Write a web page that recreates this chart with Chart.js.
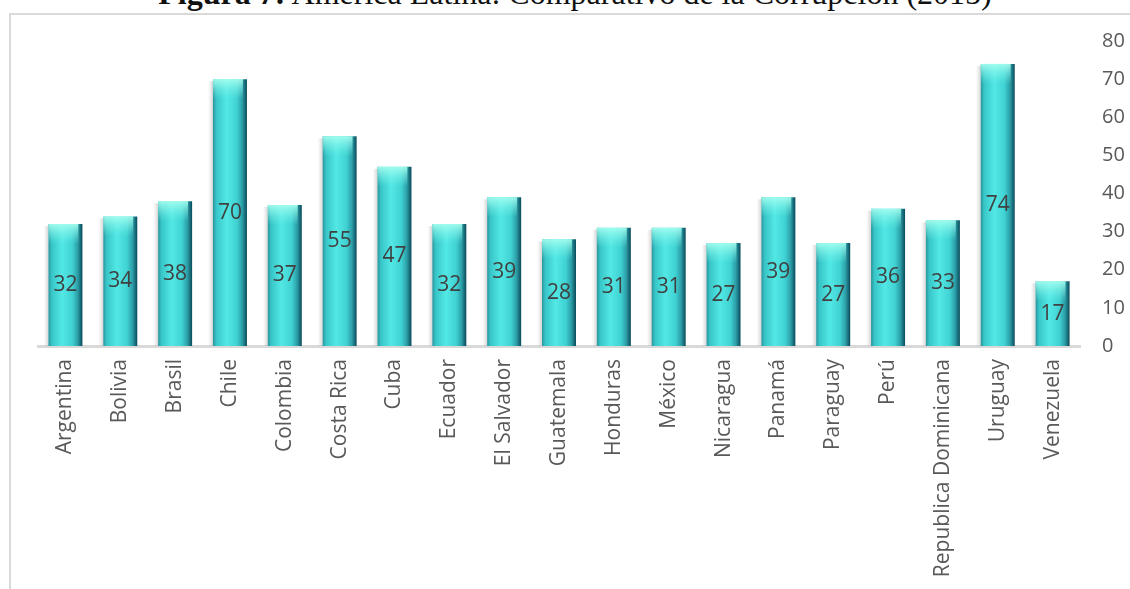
<!DOCTYPE html>
<html>
<head>
<meta charset="utf-8">
<script src="https://cdn.jsdelivr.net/npm/chart.js@4"></script>
<style>
  html, body { margin: 0; padding: 0; background: #fff; overflow: hidden; }
  #wrap { position: relative; width: 1130px; height: 589px; }
  #title {
    position: absolute; left: 0; width: 1150px; top: -25px;
    text-align: center; font-family: "Liberation Serif", serif; font-size: 32px; color: #111;
    white-space: nowrap;
  }
  #frame {
    position: absolute; left: 9px; top: 13px; right: 0; bottom: 0;
    border-left: 2px solid #d9d9d9; border-top: 2px solid #d9d9d9;
  }
  canvas { position: absolute; left: 0; top: 0; }
</style>
</head>
<body>
<div id="wrap">
  <div id="title"><b>Figura 7:</b> América Latina: Comparativo de la Corrupción (2015)</div>
  <div id="frame"></div>
  <canvas id="chart" width="1130" height="589"></canvas>
</div>
<script>
// countries and their score
const countries = ['Argentina', 'Bolivia', 'Brasil', 'Chile', 'Colombia', 'Costa Rica', 'Cuba',
  'Ecuador', 'El Salvador', 'Guatemala', 'Honduras', 'México', 'Nicaragua', 'Panamá',
  'Paraguay', 'Perú', 'Republica Dominicana', 'Uruguay', 'Venezuela'];
const scores = [32, 34, 38, 70, 37, 55, 47, 32, 39, 28, 31, 31, 27, 39, 27, 36, 33, 74, 17];
const yTicks = [0, 10, 20, 30, 40, 50, 60, 70, 80];

const BAR_SHARE = 0.62;

// cylinder-ish horizontal shading for each bar
function barFill(c) {
  const chart = c.chart;
  const xs = chart.scales.x;
  const flat = '#45d8d6';
  if (!xs || c.dataIndex === undefined) return flat;
  const cx = xs.getPixelForValue(c.dataIndex);
  const w = xs.width / countries.length * BAR_SHARE;
  if (!isFinite(cx) || !isFinite(w) || w <= 0) return flat;
  const g = chart.ctx.createLinearGradient(cx - w / 2, 0, cx + w / 2, 0);
  g.addColorStop(0, '#2a949c');
  g.addColorStop(0.1, '#38c6c8');
  g.addColorStop(0.4, '#52e8e4');
  g.addColorStop(0.7, '#40d2d3');
  g.addColorStop(0.86, '#2c9fa8');
  g.addColorStop(1, '#0a4a5a');
  return g;
}

// soft shadow, light cap at the top of each bar and the value in its middle
const barDecor = {
  id: 'barDecor',
  beforeDatasetsDraw(chart) {
    const ctx = chart.ctx;
    chart.getDatasetMeta(0).data.forEach(bar => {
      const left = bar.x - bar.width / 2;
      const g = ctx.createLinearGradient(left - 5, 0, left, 0);
      g.addColorStop(0, 'rgba(200,200,200,0)');
      g.addColorStop(1, 'rgba(170,170,170,0.5)');
      ctx.save();
      ctx.fillStyle = g;
      ctx.fillRect(left - 5, bar.y + 2, 5, bar.base - bar.y - 2);
      ctx.restore();
    });
  },
  afterDatasetsDraw(chart) {
    const ctx = chart.ctx;
    const meta = chart.getDatasetMeta(0);
    meta.data.forEach((bar, i) => {
      const left = bar.x - bar.width / 2;
      const g = ctx.createLinearGradient(0, bar.y, 0, bar.y + 20);
      g.addColorStop(0, 'rgba(170,255,240,0.9)');
      g.addColorStop(1, 'rgba(120,245,235,0)');
      ctx.save();
      ctx.fillStyle = g;
      ctx.fillRect(left, bar.y, bar.width * 0.88, 20);
      ctx.fillStyle = '#404040';
      ctx.font = '21px "Open Sans", sans-serif';
      ctx.textAlign = 'center';
      ctx.textBaseline = 'middle';
      ctx.fillText(String(scores[i]), bar.x, (bar.y + bar.base) / 2);
      ctx.restore();
    });
  }
};

const chart = new Chart(document.getElementById('chart'), {
  type: 'bar',
  data: {
    labels: countries,
    datasets: [{
      data: scores,
      backgroundColor: barFill,
      borderWidth: 0,
      barPercentage: BAR_SHARE,
      categoryPercentage: 1
    }]
  },
  options: {
    responsive: false,
    animation: false,
    layout: { padding: { left: 38, top: 41, right: 0, bottom: 0 } },
    plugins: { legend: { display: false }, tooltip: { enabled: false } },
    scales: {
      x: {
        grid: { display: false, drawTicks: false },
        border: { color: '#d9d9d9', width: 3 },
        ticks: {
          color: '#595959', font: { family: 'Open Sans', size: 21 },
          minRotation: 90, maxRotation: 90, padding: 13, autoSkip: false
        },
        afterFit(s) { s.height = 243; }
      },
      y: {
        position: 'right',
        min: 0, max: 80,
        grid: { display: false, drawTicks: false },
        border: { display: false },
        afterBuildTicks(s) { s.ticks = yTicks.map(v => ({ value: v })); },
        ticks: { color: '#595959', font: { family: 'Open Sans', size: 20 }, padding: 22 },
        afterFit(s) { s.width = 50; }
      }
    }
  },
  plugins: [barDecor]
});
// second pass so the shading picks up the laid-out scale
chart.update();
</script>
</body>
</html>
